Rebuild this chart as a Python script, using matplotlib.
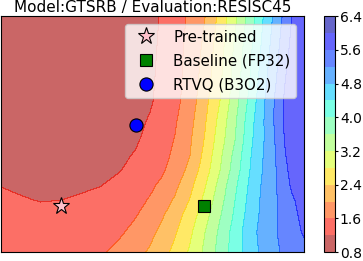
import numpy as np
import matplotlib
matplotlib.use("Agg")
import matplotlib.pyplot as plt

title = "Model:GTSRB / Evaluation:RESISC45"

# grid coordinates (arbitrary landscape units)
grid_x = [0.0, 0.2, 0.4, 0.6, 0.8, 1.0, 1.2, 1.35, 1.5, 1.62, 1.75, 1.9,
          2.05, 2.2, 2.35, 2.5, 2.65, 2.8, 2.92, 3.04]
grid_y = [2.36, 2.02, 1.72, 1.52, 1.32, 1.12, 0.97, 0.82, 0.67, 0.52, 0.37, 0.20, 0.0]

# loss values (rows follow grid_y, columns grid_x)
loss = [
    [1.00, 0.97, 0.95, 0.94, 0.94, 0.96, 1.00, 1.05, 1.12, 1.23, 1.42, 1.67, 2.00, 2.52, 3.12, 3.78, 4.48, 5.11, 5.60, 5.85],
    [0.97, 0.94, 0.92, 0.91, 0.91, 0.93, 0.98, 1.04, 1.12, 1.27, 1.46, 1.72, 2.11, 2.65, 3.28, 3.91, 4.60, 5.24, 5.72, 5.86],
    [0.96, 0.93, 0.91, 0.90, 0.90, 0.92, 0.97, 1.04, 1.14, 1.30, 1.48, 1.75, 2.20, 2.73, 3.38, 4.00, 4.72, 5.35, 5.90, 5.92],
    [0.96, 0.93, 0.91, 0.90, 0.90, 0.93, 0.99, 1.06, 1.16, 1.32, 1.49, 1.79, 2.28, 2.80, 3.43, 4.11, 4.80, 5.45, 5.95, 5.96],
    [0.98, 0.95, 0.93, 0.92, 0.93, 0.97, 1.04, 1.11, 1.23, 1.39, 1.56, 1.88, 2.36, 2.93, 3.53, 4.23, 4.84, 5.45, 5.95, 5.96],
    [1.02, 0.99, 0.97, 0.96, 0.98, 1.03, 1.10, 1.16, 1.30, 1.45, 1.62, 1.96, 2.44, 3.02, 3.60, 4.30, 4.83, 5.40, 5.95, 5.96],
    [1.07, 1.04, 1.02, 1.02, 1.04, 1.09, 1.15, 1.22, 1.37, 1.50, 1.67, 2.00, 2.52, 3.12, 3.72, 4.36, 4.86, 5.33, 5.87, 5.90],
    [1.13, 1.10, 1.09, 1.09, 1.11, 1.15, 1.19, 1.31, 1.44, 1.55, 1.76, 2.12, 2.62, 3.20, 3.80, 4.40, 4.88, 5.31, 5.75, 5.85],
    [1.19, 1.16, 1.15, 1.15, 1.16, 1.19, 1.30, 1.42, 1.54, 1.67, 1.91, 2.29, 2.77, 3.35, 3.92, 4.47, 4.92, 5.29, 5.66, 5.80],
    [1.27, 1.22, 1.19, 1.20, 1.23, 1.30, 1.40, 1.50, 1.63, 1.82, 2.05, 2.43, 2.91, 3.45, 4.00, 4.53, 4.94, 5.25, 5.55, 5.75],
    [1.32, 1.29, 1.27, 1.28, 1.31, 1.38, 1.47, 1.57, 1.79, 1.96, 2.22, 2.59, 3.05, 3.57, 4.07, 4.58, 4.95, 5.24, 5.48, 5.72],
    [1.36, 1.34, 1.33, 1.35, 1.39, 1.46, 1.55, 1.72, 1.91, 2.10, 2.36, 2.73, 3.20, 3.69, 4.17, 4.65, 4.98, 5.25, 5.44, 5.64],
    [1.40, 1.39, 1.39, 1.41, 1.46, 1.54, 1.73, 1.88, 2.05, 2.26, 2.51, 2.86, 3.29, 3.75, 4.20, 4.61, 4.94, 5.20, 5.35, 5.50],
]

levels = [0.8, 1.2, 1.6, 2.0, 2.4, 2.8, 3.2, 3.6, 4.0, 4.4, 4.8, 5.2, 5.6, 6.0, 6.4]
cbar_ticks = [0.8, 1.6, 2.4, 3.2, 4.0, 4.8, 5.6, 6.4]

pretrained = (0.60, 0.46)
baseline = (2.04, 0.46)
rtvq = (1.36, 1.27)

fig = plt.figure(figsize=(3.63, 2.61), dpi=100)
ax = fig.add_axes([0.002, 0.034, 0.835, 0.904])
cax = fig.add_axes([0.893, 0.034, 0.030, 0.904])

X, Y = np.meshgrid(grid_x, grid_y)
cs = ax.contourf(X, Y, np.array(loss), levels=levels, cmap="jet_r", alpha=0.6)
ax.set_xlim(grid_x[0], grid_x[-1])
ax.set_ylim(grid_y[-1], grid_y[0])
ax.set_xticks([])
ax.set_yticks([])

ax.plot(*pretrained, marker="*", ms=12.5, mfc="pink", mec="black", mew=0.8,
        ls="none", label="Pre-trained")
ax.plot(*baseline, marker="s", ms=9, mfc="green", mec="black", mew=0.8,
        ls="none", label="Baseline (FP32)")
ax.plot(*rtvq, marker="o", ms=9.5, mfc="blue", mec="black", mew=0.8,
        ls="none", label="RTVQ (B3O2)")
ax.legend(loc="upper right", fontsize=10.8, labelspacing=0.58)
ax.set_title(title, fontsize=11, pad=3)

cb = fig.colorbar(cs, cax=cax, ticks=cbar_ticks)
cb.ax.tick_params(labelsize=10, length=2, pad=1.5)
cb.ax.set_yticklabels([f"{t:.1f}" for t in cbar_ticks])

fig.savefig("out.png", dpi=100)
